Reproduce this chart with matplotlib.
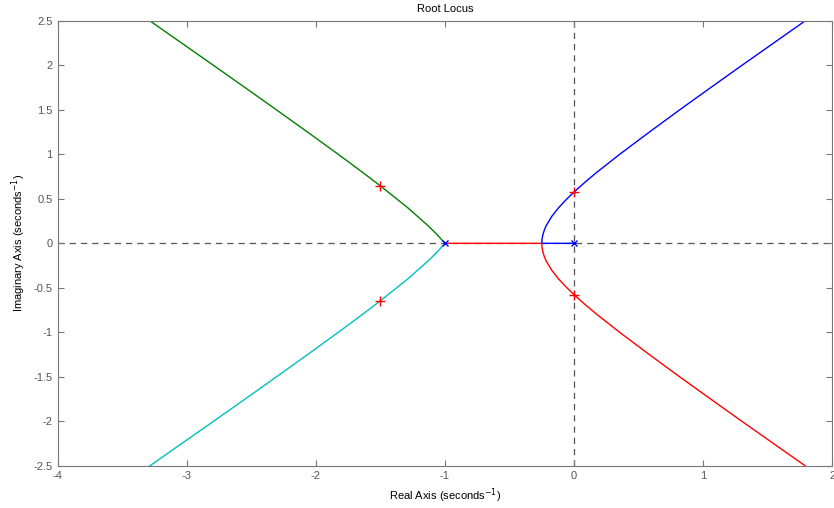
import matplotlib
matplotlib.use("Agg")
import matplotlib.pyplot as plt

plt.rcParams['font.family'] = ['Liberation Sans', 'DejaVu Sans']

# branch points (real, imag)
blue_x = [0.0, -0.25, -0.2478, -0.241, -0.23, -0.2155, -0.174, -0.12, -0.055, 0.0, 0.095, 0.178, 0.353, 0.583, 0.818, 1.058, 1.30, 1.545, 1.79]
blue_y = [0.0, 0.0, 0.05, 0.1, 0.15, 0.2, 0.3, 0.4, 0.5, 0.577, 0.7, 0.8, 1.0, 1.25, 1.5, 1.75, 2.0, 2.25, 2.5]

red_x = [-1.0, -0.25, -0.2478, -0.241, -0.23, -0.2155, -0.174, -0.12, -0.055, 0.0, 0.095, 0.178, 0.353, 0.583, 0.818, 1.058, 1.30, 1.545, 1.79]
red_y = [0.0, 0.0, -0.05, -0.1, -0.15, -0.2, -0.3, -0.4, -0.5, -0.577, -0.7, -0.8, -1.0, -1.25, -1.5, -1.75, -2.0, -2.25, -2.5]

green_x = [-1.0, -1.062, -1.132, -1.288, -1.5, -1.64, -1.826, -2.064, -2.305, -2.548, -2.7925, -3.039, -3.285]
green_y = [0.0, 0.1, 0.2, 0.4, 0.6455, 0.8, 1.0, 1.25, 1.5, 1.75, 2.0, 2.25, 2.5]

cyan_x = green_x
cyan_y = [-v for v in green_y]

poles_x = [0.0, -1.0]
poles_y = [0.0, 0.0]

cl_x = [-1.5, -1.5, 0.0, 0.0]
cl_y = [0.6455, -0.6455, 0.577, -0.577]

fig = plt.figure(figsize=(8.34, 5.08), dpi=100)
ax = fig.add_axes([0.069, 0.083, 0.929, 0.876])

ax.axhline(0, color='#555555', linestyle=(0, (5, 4)), linewidth=0.9, zorder=1)
ax.axvline(0, color='#555555', linestyle=(0, (5, 4)), linewidth=0.9, zorder=1)

ax.plot(green_x, green_y, color='#007f00', linewidth=1)
ax.plot(cyan_x, cyan_y, color='#00bfbf', linewidth=1)
ax.plot(red_x, red_y, color='#ff0000', linewidth=1)
ax.plot(blue_x, blue_y, color='#0000ff', linewidth=1)

ax.plot(poles_x, poles_y, linestyle='none', marker='x', color='#0000ff', markersize=5, markeredgewidth=1)
ax.plot(cl_x, cl_y, linestyle='none', marker='+', color='#ff0000', markersize=6.5, markeredgewidth=1)

ax.set_xlim(-4, 2)
ax.set_ylim(-2.5, 2.5)
ax.set_xticks([-4, -3, -2, -1, 0, 1, 2])
ax.set_yticks([-2.5, -2, -1.5, -1, -0.5, 0, 0.5, 1, 1.5, 2, 2.5])
ax.set_xticklabels(['-4', '-3', '-2', '-1', '0', '1', '2'])
ax.set_yticklabels(['-2.5', '-2', '-1.5', '-1', '-0.5', '0', '0.5', '1', '1.5', '2', '2.5'])

for sp in ax.spines.values():
    sp.set_color('#777777')
ax.tick_params(direction='in', top=True, right=True, colors='#777777', labelcolor='#555555', labelsize=8, length=4)

ax.set_title("Root Locus", fontsize=8)
ax.set_xlabel("Real Axis (seconds$^{-1}$)", fontsize=8)
ax.set_ylabel("Imaginary Axis (seconds$^{-1}$)", fontsize=8)

fig.savefig("out.png", dpi=100)
